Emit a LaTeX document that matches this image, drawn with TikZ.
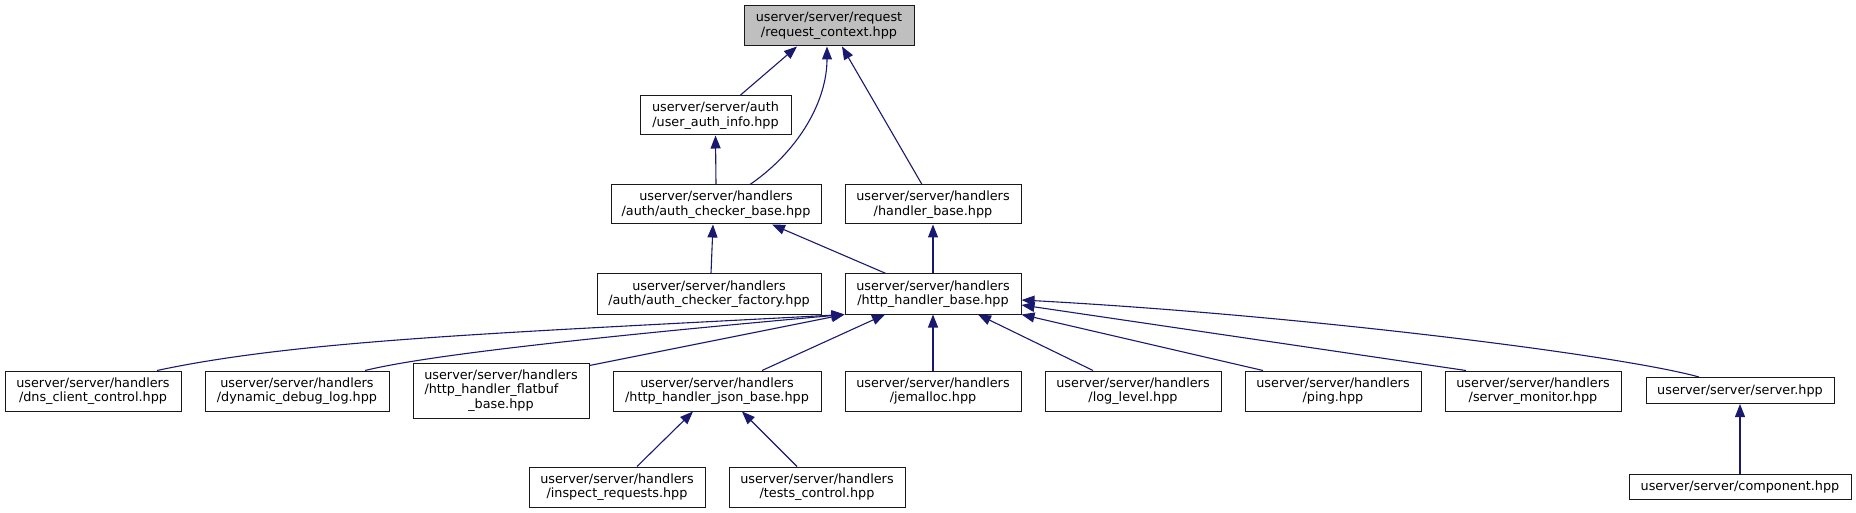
\documentclass[tikz,border=0pt]{standalone}
\usepackage{fontspec}
\setmainfont{DejaVu Sans}
\usepackage{xcolor}
\usepackage{tikz}
\usetikzlibrary{calc}
\usetikzlibrary{arrows.meta}
\definecolor{edgeblue}{HTML}{191970}
\definecolor{rootgray}{HTML}{BFBFBF}

\begin{document}
\begin{tikzpicture}[
    x=1pt, y=-1pt,
    >={Triangle[length=13pt,width=10pt]},
    line width=1.1pt,
    every node/.style={rectangle, draw=black!90, line width=1pt, inner sep=0pt,
      minimum height=40pt, align=center, font=\fontsize{12.8}{14.4}\selectfont},
    dep/.style={->, color=edgeblue}
]
  \useasboundingbox (0,0) rectangle (1856,513);

  % nodes
  \node[fill=rootgray, minimum width=170pt] (rc) at (829,26) {userver/server/request\\/request\_context.hpp};
  \node[minimum width=151pt, minimum height=39pt] (uai) at (715.5,115.5) {userver/server/auth\\/user\_auth\_info.hpp};
  \node[minimum width=210pt, minimum height=39pt] (acb) at (716,204.5) {userver/server/handlers\\/auth/auth\_checker\_base.hpp};
  \node[minimum width=176pt, minimum height=39pt] (hb) at (933,204.5) {userver/server/handlers\\/handler\_base.hpp};
  \node[minimum width=224pt] (acf) at (709,294) {userver/server/handlers\\/auth/auth\_checker\_factory.hpp};
  \node[minimum width=176pt] (hhb) at (933,294) {userver/server/handlers\\/http\_handler\_base.hpp};
  \node[minimum width=176pt] (dns) at (93,391) {userver/server/handlers\\/dns\_client\_control.hpp};
  \node[minimum width=184pt] (ddl) at (297,391) {userver/server/handlers\\/dynamic\_debug\_log.hpp};
  \node[minimum width=176pt, minimum height=55pt] (hfb) at (501,390.5) {userver/server/handlers\\\makebox[153pt][l]{/http\_handler\_flatbuf}\\\_base.hpp};
  \node[minimum width=208pt] (hjb) at (717,391) {userver/server/handlers\\/http\_handler\_json\_base.hpp};
  \node[minimum width=176pt] (jem) at (933,391) {userver/server/handlers\\/jemalloc.hpp};
  \node[minimum width=176pt] (llv) at (1133,391) {userver/server/handlers\\/log\_level.hpp};
  \node[minimum width=176pt] (png) at (1333,391) {userver/server/handlers\\/ping.hpp};
  \node[minimum width=176pt] (smn) at (1533,391) {userver/server/handlers\\/server\_monitor.hpp};
  \node[minimum width=188pt, minimum height=26pt] (srv) at (1740,390.5) {userver/server/server.hpp};
  \node[minimum width=176pt] (ins) at (617,487) {userver/server/handlers\\/inspect\_requests.hpp};
  \node[minimum width=176pt] (tst) at (817,487) {userver/server/handlers\\/tests\_control.hpp};
  \node[minimum width=222pt, minimum height=25pt] (cmp) at (1740,487) {userver/server/component.hpp};

  % edges
  \draw[dep] ([xshift=24.5pt]uai.north) -- ([xshift=-32pt]rc.south);
  \draw[dep] ([xshift=34pt]acb.north) .. controls (800,150) and (827,100) .. ([xshift=-2pt]rc.south);
  \draw[dep] ([xshift=-11pt]hb.north) -- ([xshift=13pt]rc.south);
  \draw[dep] (acb.north) -- (uai.south);
  \draw[dep] ([xshift=2pt]acf.north) -- ([xshift=-3pt]acb.south);
  \draw[dep] ([xshift=-47pt]hhb.north) -- ([xshift=56pt]acb.south);
  \draw[dep] (hhb.north) -- (hb.south);
  \draw[dep] ([xshift=64pt]dns.north) .. controls (300,340) and (500,333) .. (hhb.south west);
  \draw[dep] ([xshift=68pt]ddl.north) .. controls (420,357) and (560,340) .. (hhb.south west);
  \draw[dep] ([yshift=-3pt]hfb.north east) -- (hhb.south west);
  \draw[dep] ([xshift=45pt]hjb.north) -- ([xshift=-48pt]hhb.south);
  \draw[dep] (jem.north) -- (hhb.south);
  \draw[dep] ([xshift=-40pt]llv.north) -- ([xshift=45pt]hhb.south);
  \draw[dep] ([xshift=-70pt]png.north) -- (hhb.south east);
  \draw[dep] ([xshift=-67pt]smn.north) -- ([yshift=-11pt]hhb.east);
  \draw[dep] ([xshift=-41pt]srv.north) .. controls (1620,355) and (1300,315) .. ([yshift=-6pt]hhb.east);
  \draw[dep] ([xshift=20pt]ins.north) -- ([xshift=-24pt]hjb.south);
  \draw[dep] ([xshift=-20pt]tst.north) -- ([xshift=25pt]hjb.south);
  \draw[dep] (cmp.north) -- (srv.south);
\end{tikzpicture}
\end{document}
